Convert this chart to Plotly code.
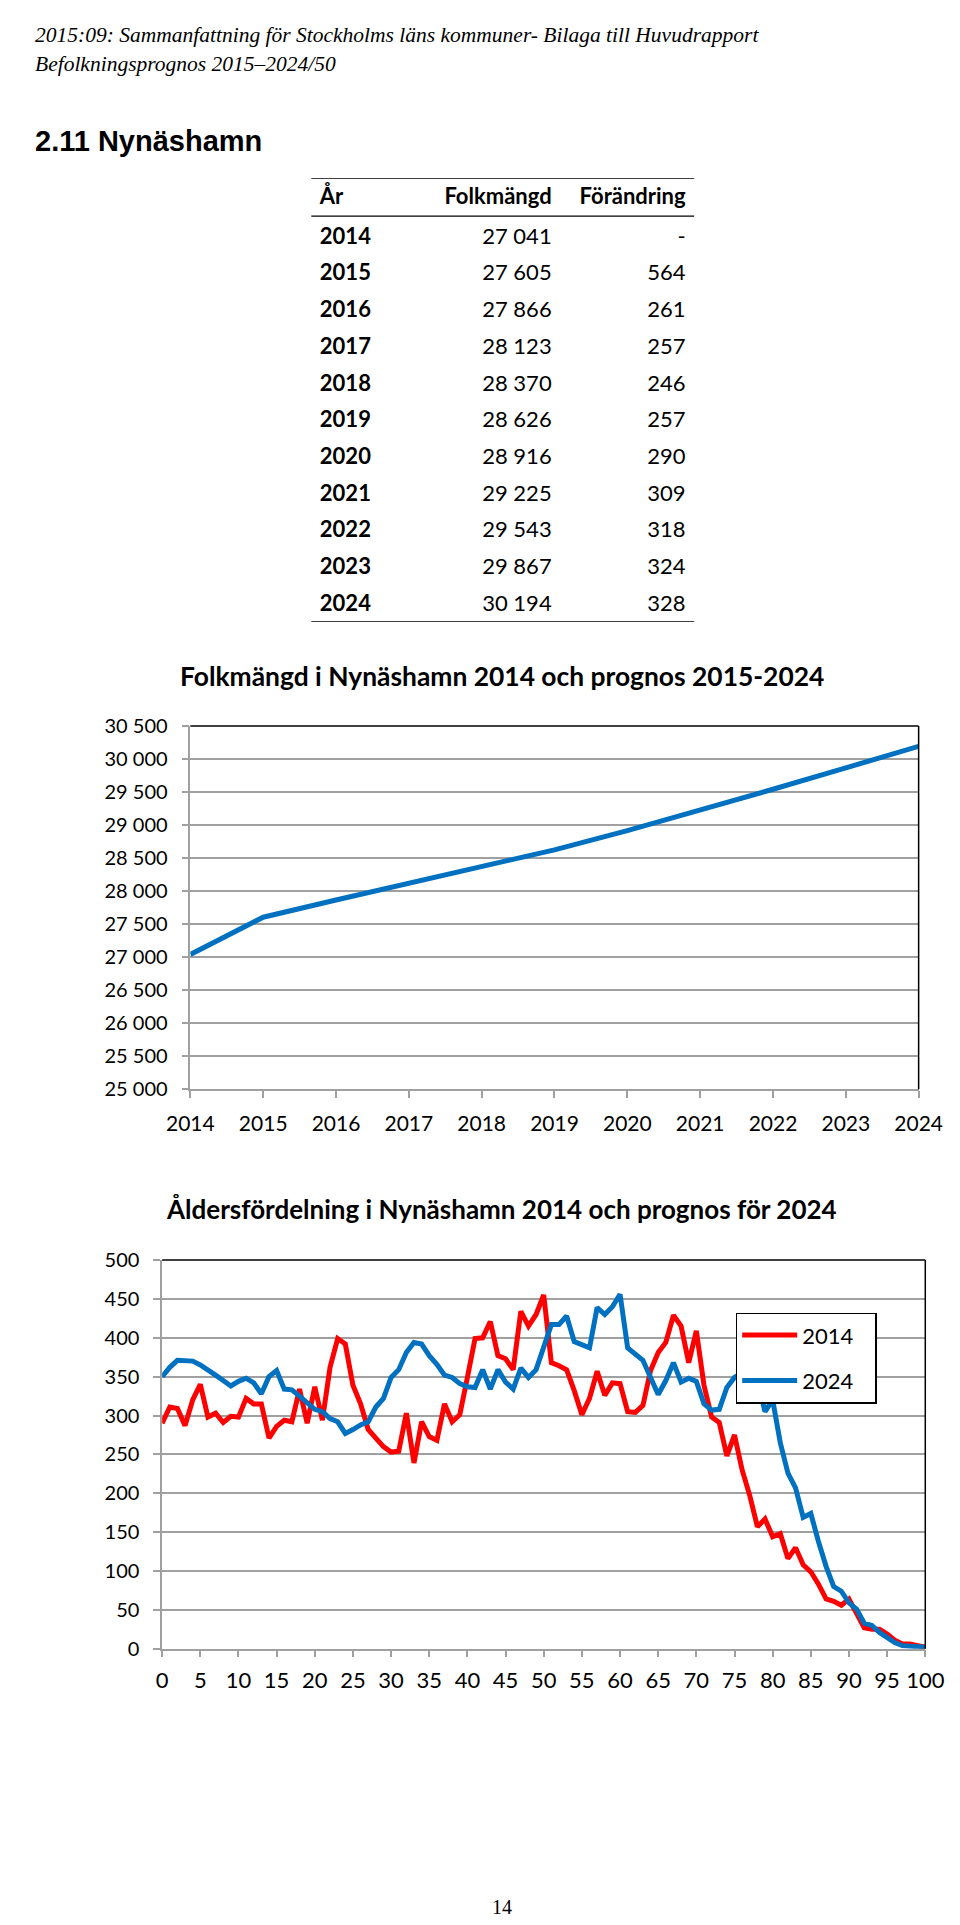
import plotly.graph_objects as go

W, H = 960, 1925

# table / chart 1 data
years = [2014, 2015, 2016, 2017, 2018, 2019, 2020, 2021, 2022, 2023, 2024]
folkmangd = [27041, 27605, 27866, 28123, 28370, 28626, 28916, 29225, 29543, 29867, 30194]
forandring = [None, 564, 261, 257, 246, 257, 290, 309, 318, 324, 328]
headers = ["År", "Folkmängd", "Förändring"]

# chart 2 data (age distribution)
ages = list(range(0, 101))
pop_2014 = [290, 311, 309, 287, 320, 340, 298, 303, 291, 299,
            298, 322, 315, 315, 271, 286, 294, 292, 334, 290,
            337, 294, 362, 399, 392, 339, 315, 282, 271, 260,
            253, 254, 303, 239, 292, 273, 268, 315, 292, 301,
            349, 399, 400, 421, 377, 373, 359, 434, 415, 430,
            455, 368, 364, 359, 332, 301, 322, 357, 326, 342,
            341, 305, 304, 313, 358, 381, 394, 429, 415, 368,
            409, 339, 298, 291, 248, 275, 230, 197, 157, 167,
            144, 148, 116, 130, 108, 99, 83, 64, 61, 56,
            64, 44, 27, 25, 25, 19, 11, 6, 6, 4, 2]
pop_2024 = [350, 362, 371, 371, 370, 365, 359, 352, 345, 338,
            344, 348, 342, 328, 350, 358, 334, 333, 325, 316,
            308, 305, 296, 292, 277, 282, 288, 292, 311, 322,
            349, 359, 381, 394, 392, 377, 366, 352, 349, 341,
            337, 336, 359, 334, 359, 343, 334, 361, 349, 359,
            390, 417, 417, 428, 395, 391, 387, 439, 430, 440,
            456, 387, 379, 371, 349, 327, 345, 368, 343, 348,
            344, 315, 307, 308, 336, 349, 355, 362, 345, 305,
            320, 265, 226, 207, 169, 174, 138, 106, 80, 74,
            59, 51, 33, 30, 21, 15, 8, 4, 3, 3, 2]

BLUE = "#0070C0"
RED = "#FF0000"
GRID = "#A0A0A0"
FONT = "Lato, Carlito, sans-serif"
SERIF = "Liberation Serif, DejaVu Serif, serif"


def py(v):
    return 1 - v / H


def px(v):
    return v / W


def fmt(v):
    return f"{v:,}".replace(",", " ")


fig = go.Figure()

# ---- table, drawn as text on a hidden axis pair (x in px from table left, y in rows) ----
rows = list(range(len(years)))
col_x = [9, 253, 394]          # left edge of col 1, right edges of col 2 and 3
head_row = -1.08
tfont = dict(family=FONT, size=22, color="black")
fig.add_trace(go.Scatter(x=[col_x[0]] * len(rows), y=rows, mode="text",
                         text=[f"<b>{y}</b>" for y in years], textposition="middle right",
                         textfont=tfont, xaxis="x3", yaxis="y3", showlegend=False, hoverinfo="skip"))
fig.add_trace(go.Scatter(x=[col_x[1]] * len(rows), y=rows, mode="text",
                         text=[fmt(v) for v in folkmangd], textposition="middle left",
                         textfont=tfont, xaxis="x3", yaxis="y3", showlegend=False, hoverinfo="skip"))
fig.add_trace(go.Scatter(x=[col_x[2]] * len(rows), y=rows, mode="text",
                         text=["-" if v is None else str(v) for v in forandring],
                         textposition="middle left",
                         textfont=tfont, xaxis="x3", yaxis="y3", showlegend=False, hoverinfo="skip"))
fig.add_trace(go.Scatter(x=col_x, y=[head_row] * 3, mode="text",
                         text=[f"<b>{h}</b>" for h in headers],
                         textposition=["middle right", "middle left", "middle left"],
                         textfont=tfont, xaxis="x3", yaxis="y3", showlegend=False, hoverinfo="skip"))
for yy in [-1.64, -0.6, 10.45]:
    fig.add_shape(type="line", xref="x3 domain", yref="y3", x0=0, x1=1, y0=yy, y1=yy,
                  line=dict(color="black", width=1.3))

# ---- chart 1 ----
fig.add_trace(go.Scatter(x=years, y=folkmangd, mode="lines",
                         line=dict(color=BLUE, width=5),
                         showlegend=False, xaxis="x", yaxis="y"))

# ---- chart 2 ----
fig.add_trace(go.Scatter(x=ages, y=pop_2014, mode="lines", name="2014\u2003",
                         line=dict(color=RED, width=5), legendgroup="a",
                         xaxis="x2", yaxis="y2"))
fig.add_trace(go.Scatter(x=ages, y=pop_2024, mode="lines", name="2024\u2003",
                         line=dict(color=BLUE, width=5), legendgroup="b",
                         xaxis="x2", yaxis="y2"))

axis_common = dict(showline=True, linecolor=GRID, linewidth=1.5,
                   ticks="outside", ticklen=7, tickcolor=GRID, tickwidth=1.5,
                   tickfont=dict(family=FONT, size=20, color="black"),
                   zeroline=False, fixedrange=True)

fig.update_layout(
    width=W, height=H,
    margin=dict(l=0, r=0, t=0, b=0),
    paper_bgcolor="white", plot_bgcolor="white",
    separators=", ",
    xaxis=dict(domain=[px(166.7), px(933.3)], anchor="y", range=[2014, 2024],
               tickvals=years, showgrid=False, ticklabelstandoff=8, **axis_common),
    yaxis=dict(domain=[py(1081.7), py(714)], anchor="x", range=[25000, 30500],
               dtick=500, tickformat=",d", showgrid=True, gridcolor=GRID, gridwidth=1.5,
               ticklabelstandoff=10, **axis_common),
    xaxis2=dict(domain=[px(137), px(940.3)], anchor="y2", range=[0, 100],
                dtick=5, showgrid=False, ticklabelstandoff=4, **axis_common),
    yaxis2=dict(domain=[py(1648.3), py(1254.7)], anchor="x2", range=[0, 500],
                dtick=50, showgrid=True, gridcolor=GRID, gridwidth=1.5,
                ticklabelstandoff=10, **axis_common),
    xaxis3=dict(domain=[px(294), px(697)], anchor="y3", range=[0, 403], visible=False,
                fixedrange=True),
    yaxis3=dict(domain=[py(608.3), py(159)], anchor="x3", range=[10.45, -1.64], visible=False,
                fixedrange=True),
    legend=dict(x=px(740.7), y=py(1308), xanchor="left", yanchor="top",
                bgcolor="white", bordercolor="black", borderwidth=1.5,
                font=dict(family=FONT, size=22, color="black"),
                tracegroupgap=14, itemwidth=55),
)
fig.update_xaxes(tickfont_size=22, selector=dict(anchor="y2"))
fig.update_xaxes(tickfont_size=21, selector=dict(anchor="y"))

# black top/right frame lines
for xr, yr in [("x domain", "y domain"), ("x2 domain", "y2 domain")]:
    fig.add_shape(type="line", xref=xr, yref=yr, x0=0, x1=1, y0=1, y1=1,
                  line=dict(color="black", width=1.5))
    fig.add_shape(type="line", xref=xr, yref=yr, x0=1, x1=1, y0=0, y1=1,
                  line=dict(color="black", width=1.5))


def note(text, x, y, size, family, anchor="left"):
    fig.add_annotation(text=text, x=px(x), y=py(y), xref="paper", yref="paper",
                       xanchor=anchor, yanchor="middle", showarrow=False,
                       font=dict(family=family, size=size, color="black"))


note("<i>2015:09: Sammanfattning för Stockholms läns kommuner- Bilaga till Huvudrapport</i>",
     1, 14, 21.5, SERIF)
note("<i>Befolkningsprognos 2015–2024/50</i>", 1, 44, 21.5, SERIF)
note("<b>2.11 Nynäshamn</b>", 1, 122, 29, "Liberation Sans, Arial")
note("<b>Folkmängd i Nynäshamn 2014 och prognos 2015-2024</b>", 495, 663, 26.4, FONT, "center")
note("<b>Åldersfördelning i Nynäshamn 2014 och prognos för 2024</b>", 494, 1203, 26, FONT, "center")
note("14", 495, 1910, 20, SERIF, "center")

fig.write_html("out.html")
